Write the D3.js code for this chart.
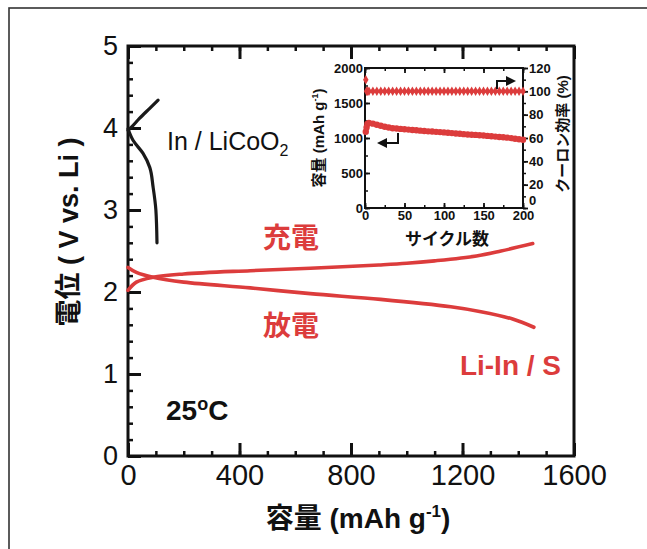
<!DOCTYPE html>
<html>
<head>
<meta charset="utf-8">
<script src="https://cdn.jsdelivr.net/npm/d3@7"></script>
<style>
  body { margin: 0; background: #fff; }
  svg { display: block; }
  .tick text { fill: #111; }
</style>
</head>
<body>
<div id="chart"></div>
<script>
// main plot: capacity (mAh/g) vs voltage (V vs. Li)
var liCoO2Charge = [[0, 3.97], [15, 4.02], [42, 4.12], [78, 4.24], [108, 4.34]];
var liCoO2Discharge = [[0, 3.99], [18, 3.85], [54, 3.69], [78, 3.52], [90, 3.28], [100, 3.0], [104, 2.6]];
var liInSCharge = [[0, 2.02], [30, 2.12], [90, 2.18], [200, 2.22], [439, 2.26], [654, 2.29], [900, 2.33],
                   [1000, 2.35], [1100, 2.38], [1250, 2.44], [1338, 2.50], [1452, 2.59]];
var liInSDischarge = [[0, 2.30], [30, 2.24], [90, 2.18], [200, 2.12], [439, 2.05], [654, 1.98], [906, 1.91],
                      [1158, 1.82], [1266, 1.76], [1380, 1.67], [1456, 1.57]];
var xTicks = [0, 400, 800, 1200, 1600];
var yTicks = [0, 1, 2, 3, 4, 5];

// inset: cycle performance
var cycles = [1, 2, 3, 5, 10, 15, 20, 25, 30, 35, 40, 45, 50, 55, 60, 65, 70, 75, 80, 85, 90, 95, 100,
              105, 110, 115, 120, 125, 130, 135, 140, 145, 150, 155, 160, 165, 170, 175, 180, 185, 190, 195, 200];
var capacity = [1090, 1150, 1200, 1215, 1205, 1190, 1175, 1160, 1150, 1140, 1135, 1130, 1125, 1120, 1115,
                1110, 1105, 1100, 1095, 1092, 1088, 1084, 1080, 1075, 1070, 1065, 1060, 1055, 1050, 1047,
                1044, 1040, 1035, 1030, 1025, 1020, 1015, 1010, 1005, 998, 990, 982, 975];
var efficiency = [110, 100, 100, 100, 100, 100, 100, 100, 100, 100, 100, 100, 100, 100, 100, 100, 100, 100,
                  100, 100, 100, 100, 100, 100, 100, 100, 100, 100, 100, 100, 100, 100, 100, 100, 100, 100,
                  100, 100, 100, 100, 100, 100, 100];

var red = "#dc3c3c";
var latin = "'Liberation Sans', Arial, 'Noto Sans CJK JP', sans-serif";
var narrow = "'Liberation Sans Narrow', 'Arial Narrow', 'Liberation Sans', sans-serif";

var W = 647, H = 549;
var svg = d3.select("#chart").append("svg").attr("width", W).attr("height", H);

// outer page frame
svg.append("rect").attr("x", 9).attr("y", 8).attr("width", 700).attr("height", 600)
  .attr("fill", "none").attr("stroke", "#333").attr("stroke-width", 1.6);

var m = {left: 128, right: 574, top: 46, bottom: 456};
var x = d3.scaleLinear().domain([0, 1600]).range([m.left, m.right]);
var y = d3.scaleLinear().domain([0, 5]).range([m.bottom, m.top]);

function styleAxis(g, w) {
  g.select(".domain").remove();
  g.selectAll(".tick line").attr("stroke", "#111").attr("stroke-width", w);
}

// minor ticks
svg.append("g").attr("transform", "translate(0," + m.bottom + ")")
  .call(d3.axisBottom(x).tickValues(d3.range(0, 1601, 100)).tickSize(-5).tickFormat(""))
  .call(styleAxis, 2.5);
svg.append("g").attr("transform", "translate(0," + m.top + ")")
  .call(d3.axisTop(x).tickValues(d3.range(0, 1601, 100)).tickSize(-5).tickFormat(""))
  .call(styleAxis, 2.5);
svg.append("g").attr("transform", "translate(" + m.left + ",0)")
  .call(d3.axisLeft(y).tickValues(d3.range(0, 5.01, 0.2)).tickSize(-5).tickFormat(""))
  .call(styleAxis, 2.5);

// major ticks with labels
var xAxis = svg.append("g").attr("transform", "translate(0," + m.bottom + ")")
  .call(d3.axisBottom(x).tickValues(xTicks).tickSize(-13).tickPadding(8).tickFormat(d3.format("d")))
  .call(styleAxis, 3);
xAxis.selectAll("text").attr("font-family", narrow).attr("font-size", 29).attr("dy", "0.72em");
svg.append("g").attr("transform", "translate(0," + m.top + ")")
  .call(d3.axisTop(x).tickValues(xTicks).tickSize(-13).tickFormat(""))
  .call(styleAxis, 3);
var yAxis = svg.append("g").attr("transform", "translate(" + m.left + ",0)")
  .call(d3.axisLeft(y).tickValues(yTicks).tickSize(-13).tickPadding(10).tickFormat(d3.format("d")))
  .call(styleAxis, 3);
yAxis.selectAll("text").attr("font-family", narrow).attr("font-size", 27);

// plot frame
svg.append("rect").attr("x", m.left).attr("y", m.top)
  .attr("width", m.right - m.left).attr("height", m.bottom - m.top)
  .attr("fill", "none").attr("stroke", "#111").attr("stroke-width", 3);

var line = d3.line().x(function(d) { return x(d[0]); }).y(function(d) { return y(d[1]); })
  .curve(d3.curveMonotoneY);
var lineX = d3.line().x(function(d) { return x(d[0]); }).y(function(d) { return y(d[1]); })
  .curve(d3.curveCatmullRom);

svg.append("path").datum(liCoO2Charge).attr("d", lineX)
  .attr("fill", "none").attr("stroke", "#1a1a1a").attr("stroke-width", 3.2).attr("stroke-linecap", "round");
svg.append("path").datum(liCoO2Discharge).attr("d", line)
  .attr("fill", "none").attr("stroke", "#1a1a1a").attr("stroke-width", 3.2).attr("stroke-linecap", "round");
[liInSCharge, liInSDischarge].forEach(function(s) {
  svg.append("path").datum(s).attr("d", lineX)
    .attr("fill", "none").attr("stroke", red).attr("stroke-width", 3.6).attr("stroke-linecap", "round");
});

// axis titles
var xt = svg.append("text").attr("x", 358).attr("y", 528).attr("text-anchor", "middle")
  .attr("font-family", latin).attr("font-weight", "bold").attr("font-size", 28).attr("fill", "#111");
xt.append("tspan").text("容量 (mAh g");
xt.append("tspan").attr("font-size", 17).attr("dy", -11).text("-1");
xt.append("tspan").attr("dy", 11).text(")");

svg.append("text").attr("transform", "translate(78,232) rotate(-90)").attr("text-anchor", "middle")
  .attr("font-family", latin).attr("font-weight", "bold").attr("font-size", 27).attr("fill", "#111")
  .text("電位 ( V vs. Li )");

// labels
var lc = svg.append("text").attr("x", 167).attr("y", 150)
  .attr("font-family", latin).attr("font-size", 25).attr("fill", "#111");
lc.append("tspan").text("In / LiCoO");
lc.append("tspan").attr("font-size", 16).attr("dy", 6).text("2");

svg.append("text").attr("x", 263).attr("y", 248).attr("font-family", latin).attr("font-weight", "bold")
  .attr("font-size", 28).attr("fill", red).text("充電");
svg.append("text").attr("x", 263).attr("y", 336).attr("font-family", latin).attr("font-weight", "bold")
  .attr("font-size", 28).attr("fill", red).text("放電");
svg.append("text").attr("x", 561).attr("y", 375).attr("text-anchor", "end").attr("font-family", latin)
  .attr("font-weight", "bold").attr("font-size", 28).attr("fill", red).text("Li-In / S");

var tc = svg.append("text").attr("x", 166).attr("y", 420).attr("font-family", latin)
  .attr("font-weight", "bold").attr("font-size", 28).attr("fill", "#111");
tc.append("tspan").text("25");
tc.append("tspan").attr("font-size", 18).attr("dy", -10).text("o");
tc.append("tspan").attr("dy", 10).text("C");

// ---------- inset ----------
var im = {left: 365, right: 523, top: 68, bottom: 208};
var ix = d3.scaleLinear().domain([0, 200]).range([im.left, im.right]);
var iyL = d3.scaleLinear().domain([0, 2000]).range([im.bottom, im.top]);
var iyR = d3.scaleLinear().domain([0, 120]).range([im.bottom, im.top]);
var inset = svg.append("g");

function insetLabels(g) {
  g.selectAll("text").attr("font-family", latin).attr("font-weight", "bold").attr("font-size", 13);
}

inset.append("g").attr("transform", "translate(0," + im.bottom + ")")
  .call(d3.axisBottom(ix).tickValues(d3.range(0, 201, 25)).tickSize(-3).tickFormat(""))
  .call(styleAxis, 1.5);
inset.append("g").attr("transform", "translate(0," + im.top + ")")
  .call(d3.axisTop(ix).tickValues(d3.range(0, 201, 25)).tickSize(-3).tickFormat(""))
  .call(styleAxis, 1.5);
inset.append("g").attr("transform", "translate(0," + im.bottom + ")")
  .call(d3.axisBottom(ix).tickValues([0, 50, 100, 150, 200]).tickSize(-5).tickPadding(3).tickFormat(d3.format("d")))
  .call(styleAxis, 1.8).call(insetLabels);
inset.append("g").attr("transform", "translate(0," + im.top + ")")
  .call(d3.axisTop(ix).tickValues([0, 50, 100, 150, 200]).tickSize(-5).tickFormat(""))
  .call(styleAxis, 1.8);
inset.append("g").attr("transform", "translate(" + im.left + ",0)")
  .call(d3.axisLeft(iyL).tickValues(d3.range(0, 2001, 250)).tickSize(-3).tickFormat(""))
  .call(styleAxis, 1.5);
inset.append("g").attr("transform", "translate(" + im.left + ",0)")
  .call(d3.axisLeft(iyL).tickValues([0, 500, 1000, 1500, 2000]).tickSize(-5).tickPadding(2).tickFormat(d3.format("d")))
  .call(styleAxis, 1.8).call(insetLabels);
inset.append("g").attr("transform", "translate(" + im.right + ",0)")
  .call(d3.axisRight(iyR).tickValues(d3.range(0, 121, 10)).tickSize(3).tickFormat(""))
  .call(styleAxis, 1.5);
var rAxis = inset.append("g").attr("transform", "translate(" + im.right + ",0)")
  .call(d3.axisRight(iyR).tickValues([0, 20, 40, 60, 80, 100, 120]).tickSize(5).tickPadding(1).tickFormat(d3.format("d")))
  .call(styleAxis, 1.8).call(insetLabels);
// lift the right "0" so it sits above the bottom "200"
rAxis.selectAll("text").filter(function(d) { return d === 0; }).attr("dy", "-0.3em");

inset.append("rect").attr("x", im.left).attr("y", im.top)
  .attr("width", im.right - im.left).attr("height", im.bottom - im.top)
  .attr("fill", "none").attr("stroke", "#111").attr("stroke-width", 2);

// efficiency (right axis)
inset.append("path").datum(cycles.slice(1))
  .attr("d", d3.line().x(function(d) { return ix(d); }).y(function(d, i) { return iyR(efficiency[i + 1]); }))
  .attr("stroke", red).attr("stroke-width", 3).attr("fill", "none");
inset.selectAll(".eff").data(cycles).enter().append("path")
  .attr("transform", function(d, i) { return "translate(" + ix(d) + "," + iyR(efficiency[i]) + ")"; })
  .attr("d", d3.symbol().type(d3.symbolDiamond).size(26)).attr("fill", red);

// capacity (left axis)
inset.append("path").datum(cycles)
  .attr("d", d3.line().x(function(d) { return ix(d); }).y(function(d, i) { return iyL(capacity[i]); }))
  .attr("stroke", red).attr("stroke-width", 4).attr("fill", "none");
inset.selectAll(".cap").data(cycles).enter().append("circle")
  .attr("cx", function(d) { return ix(d); }).attr("cy", function(d, i) { return iyL(capacity[i]); })
  .attr("r", 3.2).attr("fill", red);

// arrows
svg.append("defs").append("marker").attr("id", "ah").attr("viewBox", "0 0 10 10")
  .attr("refX", 8).attr("refY", 5).attr("markerWidth", 5).attr("markerHeight", 5)
  .attr("orient", "auto-start-reverse")
  .append("path").attr("d", "M0,0L10,5L0,10z").attr("fill", "#111");
inset.append("polyline").attr("points", "398,133 398,143 379,143")
  .attr("fill", "none").attr("stroke", "#111").attr("stroke-width", 2).attr("marker-end", "url(#ah)");
inset.append("polyline").attr("points", "497,89 497,81 514,81")
  .attr("fill", "none").attr("stroke", "#111").attr("stroke-width", 2).attr("marker-end", "url(#ah)");

// inset titles
inset.append("text").attr("x", 447).attr("y", 245).attr("text-anchor", "middle")
  .attr("font-family", latin).attr("font-weight", "bold").attr("font-size", 17).attr("fill", "#111")
  .text("サイクル数");
var il = inset.append("text").attr("transform", "translate(324,138) rotate(-90)").attr("text-anchor", "middle")
  .attr("font-family", latin).attr("font-weight", "bold").attr("font-size", 15).attr("fill", "#111");
il.append("tspan").text("容量 (mAh g");
il.append("tspan").attr("font-size", 9).attr("dy", -6).text("-1");
il.append("tspan").attr("dy", 6).text(")");
inset.append("text").attr("transform", "translate(568,134) rotate(-90)").attr("text-anchor", "middle")
  .attr("font-family", latin).attr("font-weight", "bold").attr("font-size", 15).attr("fill", "#111")
  .text("クーロン効率 (%)");
</script>
</body>
</html>
